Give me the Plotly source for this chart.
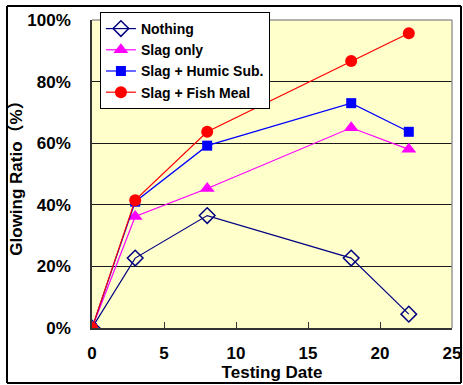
import plotly.graph_objects as go

days = [0, 3, 8, 18, 22]
nothing = [0, 22.7, 36.5, 22.7, 4.5]
slag_only = [0, 36.2, 45.3, 65.0, 58.0]
slag_humic = [0, 41.0, 59.2, 73.0, 63.7]
slag_fish = [0, 41.5, 63.7, 86.7, 95.7]

series_names = ["Nothing", "Slag only", "Slag + Humic Sub.", "Slag + Fish Meal"]
x_ticks = [0, 5, 10, 15, 20, 25]
y_ticks = [0, 20, 40, 60, 80, 100]
y_tick_labels = ["0%", "20%", "40%", "60%", "80%", "100%"]

fig = go.Figure()
fig.add_trace(go.Scatter(x=days, y=nothing, name=series_names[0], mode="lines+markers",
                         line=dict(color="#000080", width=1.2),
                         marker=dict(symbol="diamond-open", size=12, color="#000080", line=dict(width=1.5))))
fig.add_trace(go.Scatter(x=days, y=slag_only, name=series_names[1], mode="lines+markers",
                         line=dict(color="#FF00FF", width=1.2),
                         marker=dict(symbol="triangle-up", size=13, color="#FF00FF")))
fig.add_trace(go.Scatter(x=days, y=slag_humic, name=series_names[2], mode="lines+markers",
                         line=dict(color="#0000FF", width=1.2),
                         marker=dict(symbol="square", size=10, color="#0000FF")))
fig.add_trace(go.Scatter(x=days, y=slag_fish, name=series_names[3], mode="lines+markers",
                         line=dict(color="#FF0000", width=1.2),
                         marker=dict(symbol="circle", size=12, color="#FF0000")))

font_bold = "Liberation Sans, Arial, sans-serif"

fig.update_layout(
    width=463, height=385,
    margin=dict(l=92, r=11, t=20, b=57, pad=0, autoexpand=False),
    paper_bgcolor="white",
    plot_bgcolor="#FFFFCC",
    font=dict(family=font_bold, color="black", size=15, weight="bold"),
    showlegend=True,
    legend=dict(x=0.022, y=1.026, xanchor="left", yanchor="top",
                bgcolor="white", bordercolor="black", borderwidth=1,
                font=dict(size=14, family=font_bold, weight="bold"),
                tracegroupgap=0, itemwidth=30),
    xaxis=dict(range=[0, 25], tickvals=x_ticks, ticks="inside", ticklen=6, tickcolor="#333",
               showline=True, linecolor="#333", linewidth=1.5, mirror=False, automargin=False,
               showgrid=False, zeroline=False, ticklabelstandoff=9,
               tickfont=dict(size=17, family=font_bold, weight="bold"),
               title=dict(text="Testing Date", standoff=3,
                          font=dict(size=17, family=font_bold, weight="bold"))),
    yaxis=dict(range=[0, 100], tickvals=y_ticks, ticktext=y_tick_labels, automargin=False,
               showline=True, linecolor="#333", linewidth=1.5,
               showgrid=True, gridcolor="#1a1a1a", gridwidth=1, zeroline=False,
               ticks="", ticklabelstandoff=16,
               tickfont=dict(size=17, family=font_bold, weight="bold"),
               title=dict(text="Glowing Ratio（%）", standoff=0,
                          font=dict(size=17, family=font_bold + ", Noto Sans CJK JP", weight="bold"))),
)

# light grey frame on top/right of plot area
fig.add_shape(type="line", xref="paper", yref="paper", x0=0, x1=1, y0=1, y1=1,
              line=dict(color="#999", width=1.5))
fig.add_shape(type="line", xref="paper", yref="paper", x0=1, x1=1, y0=0, y1=1,
              line=dict(color="#999", width=1.5))
# outer chart border (four lines in paper coordinates)
bx0, bx1 = (7 - 92) / 360, (461 - 92) / 360
by0, by1 = (328 - 383) / 308, (328 - 6) / 308
for (a, b, c, d) in [(bx0, by0, bx1, by0), (bx0, by1, bx1, by1), (bx0, by0, bx0, by1), (bx1, by0, bx1, by1)]:
    fig.add_shape(type="line", xref="paper", yref="paper", x0=a, y0=b, x1=c, y1=d,
                  line=dict(color="black", width=2), layer="above")

fig.write_html("out.html", config={"displayModeBar": False},
               post_script="document.body.style.margin='0';document.body.style.padding='0';")
